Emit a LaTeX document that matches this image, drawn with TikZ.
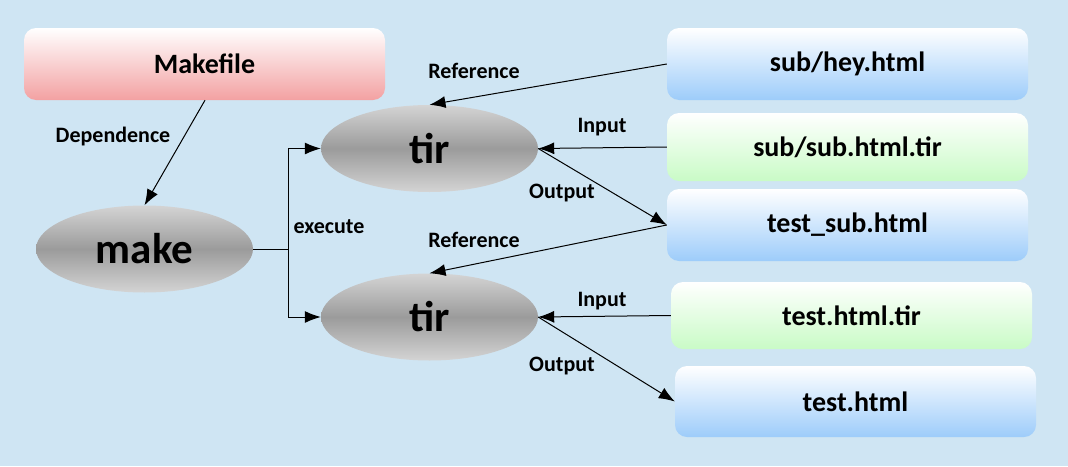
\documentclass[tikz,border=0pt]{standalone}
\usepackage{fontspec}
\setmainfont{Carlito}
\usetikzlibrary{shapes.geometric,arrows.meta}
\definecolor{bgblue}{HTML}{CFE5F3}
\definecolor{pinkb}{HTML}{F3A1A2}
\definecolor{blueb}{HTML}{9DCCFA}
\definecolor{greenb}{HTML}{C9FBC6}
\definecolor{grayedge}{HTML}{D4D4D4}
\definecolor{graymid}{HTML}{9B9B9B}
\tikzset{
  filebox/.style={rectangle, rounded corners=12pt, inner sep=0pt, font=\fontsize{28}{32}\selectfont\bfseries, top color=white},
  pinkbox/.style={filebox, bottom color=pinkb},
  bluebox/.style={filebox, bottom color=blueb},
  greenbox/.style={filebox, bottom color=greenb},
  proc/.style={ellipse, inner sep=0pt, minimum width=217pt, minimum height=87pt, top color=grayedge, bottom color=grayedge, middle color=graymid, font=\fontsize{43}{48}\selectfont\bfseries},
  lbl/.style={font=\fontsize{22}{26}\selectfont\bfseries, inner sep=0pt},
  conn/.style={draw=black, line width=1pt, -{Latex[length=16pt,width=12pt]}},
  plain/.style={draw=black, line width=1pt}
}
\begin{document}
\begin{tikzpicture}[x=1pt,y=-1pt]
\fill[bgblue] (0,0) rectangle (1068,466);
\useasboundingbox (0,0) rectangle (1068,466);
% boxes
\node[pinkbox, minimum width=361pt, minimum height=72pt] (makefile) at (204.5,64) {Makefile};
\node[bluebox, minimum width=361pt, minimum height=72pt] (hey) at (847.5,64) {sub/hey.html};
\node[greenbox, minimum width=361pt, minimum height=68pt] (subtir) at (847.5,147) {sub/sub.html.tir};
\node[bluebox, minimum width=361pt, minimum height=72pt] (testsub) at (847.5,225) {test\_sub.html};
\node[greenbox, minimum width=361pt, minimum height=67pt] (testtir) at (851.5,315.5) {test.html.tir};
\node[bluebox, minimum width=361pt, minimum height=71pt] (testhtml) at (855.5,401.5) {test.html};
% ellipses
\node[proc] (make) at (144.5,249) {make};
\node[proc] (tira) at (429.5,148.5) {tir};
\node[proc] (tirb) at (429.5,317) {tir};
% connectors
\draw[conn] (makefile.south) ++(0.5,0) -- (make.north);
\coordinate (fork) at (288,249);
\draw[plain] (make.east) -- (fork);
\draw[conn] (fork) |- (tira.west);
\draw[conn] (fork) |- (tirb.west);
\draw[conn] (hey.west) -- (tira.north);
\draw[conn] (subtir.west) -- (tira.east);
\draw[conn] (tira.east) -- (testsub.west);
\draw[conn] (testsub.west) -- (tirb.north);
\draw[conn] (testtir.west) -- (tirb.east);
\draw[conn] (tirb.east) -- (testhtml.west);
% labels
\node[lbl] (ldep) at (113,137) {Dependence};
\node[lbl] (lexec) at (329,227) {execute};
\node[lbl] (lref1) at (474,71) {Reference};
\node[lbl] (lin1) at (602,127) {Input};
\node[lbl] (lout1) at (562,193) {Output};
\node[lbl] (lref2) at (474,240) {Reference};
\node[lbl] (lin2) at (602,301) {Input};
\node[lbl] (lout2) at (562,366) {Output};
\end{tikzpicture}
\end{document}
